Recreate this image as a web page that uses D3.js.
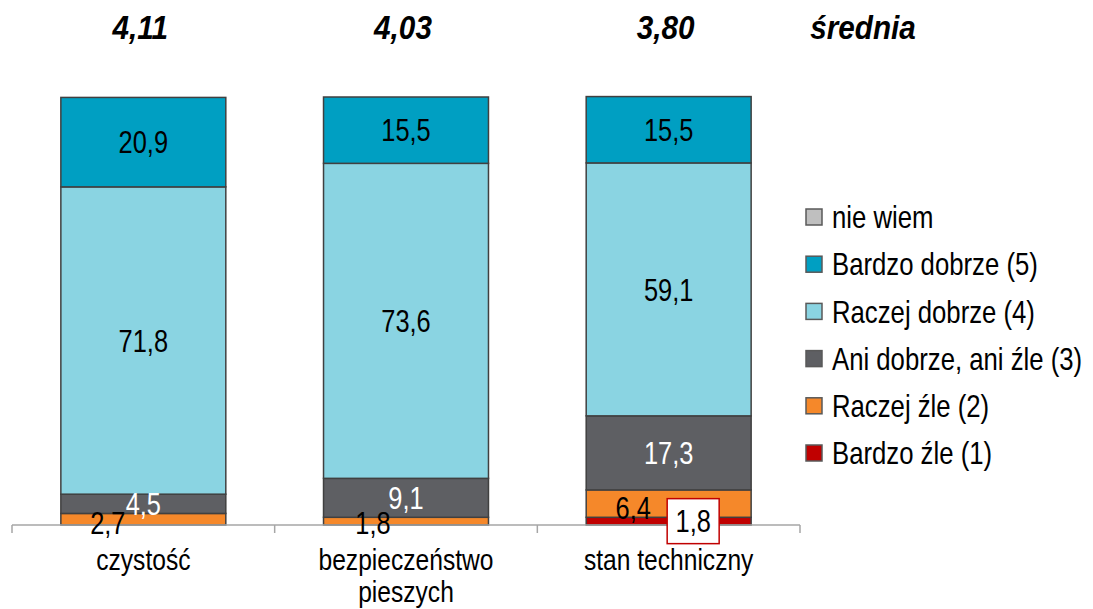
<!DOCTYPE html>
<html><head><meta charset="utf-8">
<script src="https://cdn.jsdelivr.net/npm/d3@7"></script>
<style>
html,body{margin:0;padding:0;background:#fff;}
svg{display:block;}
text{font-family:"Liberation Sans Narrow","Liberation Sans",Arial,sans-serif;}
</style></head>
<body>
<svg id="chart" width="1093" height="609"></svg>
<script>
const categories = ["czystość", "bezpieczeństwo\npieszych", "stan techniczny"];
const means = ["4,11", "4,03", "3,80"];
const meanTitle = "średnia";
const seriesNames = ["Bardzo źle (1)", "Raczej źle (2)", "Ani dobrze, ani źle (3)", "Raczej dobrze (4)", "Bardzo dobrze (5)", "nie wiem"];
const bardzoZle = [0, 0, 1.8];
const raczejZle = [2.7, 1.8, 6.4];
const ani = [4.5, 9.1, 17.3];
const raczejDobrze = [71.8, 73.6, 59.1];
const bardzoDobrze = [20.9, 15.5, 15.5];
const nieWiem = [0, 0, 0];
const seriesValues = [bardzoZle, raczejZle, ani, raczejDobrze, bardzoDobrze, nieWiem];
const colors = ["#C00000", "#F5882A", "#5E5F63", "#8AD4E2", "#009FC2", "#BFBFBF"];
const labelColors = ["#000", "#000", "#fff", "#000", "#000", "#000"];

const svg = d3.select("#chart");
const x = d3.scaleBand().domain(categories).range([12, 800]).paddingInner(0.372).paddingOuter(0.186);
const y = d3.scaleLinear().domain([0, 100]).range([525, 97]);

// condensed text helper (emulates a narrow font)
function ntext(parent, px, py, str, o) {
  const g = parent.append("g").attr("transform", `translate(${px},${py}) scale(${o.sx || 0.82},1)`);
  const t = g.append("text").attr("x", 0).attr("y", 0)
    .attr("text-anchor", o.anchor || "middle")
    .attr("font-size", o.size).attr("fill", o.fill || "#000");
  if (o.dy) t.attr("dy", o.dy);
  if (o.bold) t.attr("font-weight", "bold");
  if (o.italic) t.attr("font-style", "italic");
  t.text(str);
  return t;
}

const rows = categories.map((c, i) => {
  const o = {cat: c};
  seriesNames.forEach((s, j) => o[s] = seriesValues[j][i]);
  return o;
});
const stacked = d3.stack().keys(seriesNames)(rows);

// bars
stacked.forEach((layer, j) => {
  svg.append("g").selectAll("rect").data(layer.filter(d => d[1] - d[0] > 0)).join("rect")
    .attr("x", d => x(d.data.cat))
    .attr("y", d => y(d[1]))
    .attr("width", x.bandwidth())
    .attr("height", d => y(d[0]) - y(d[1]))
    .attr("fill", colors[j])
    .attr("stroke", "#404040")
    .attr("stroke-width", 1.5);
});

// axis
const axis = svg.append("g");
axis.append("line").attr("x1", 12).attr("x2", 800).attr("y1", y(0)).attr("y2", y(0))
  .attr("stroke", "#A6A6A6").attr("stroke-width", 1.5);
const step = x.step();
d3.range(categories.length + 1).forEach(i => {
  const tx = x.range()[0] + i * step;
  axis.append("line").attr("x1", tx).attr("x2", tx).attr("y1", y(0)).attr("y2", y(0) + 8)
    .attr("stroke", "#A6A6A6").attr("stroke-width", 1.5);
});
categories.forEach(c => {
  c.split("\n").forEach((l, k) => {
    ntext(svg, x(c) + x.bandwidth() / 2, 570 + k * 32, l, {size: 30});
  });
});

// value labels with nudges for small segments
const nudges = {
  "1|0": [-35.5, 4], "1|1": [-33, 2], "1|2": [-35.5, 4],
  "0|2": [24.5, 0]
};
stacked.forEach((layer, j) => {
  layer.forEach((d, i) => {
    const v = d[1] - d[0];
    if (!(v > 0)) return;
    const nd = nudges[j + "|" + i] || [0, 0];
    const cx = x(d.data.cat) + x.bandwidth() / 2 + nd[0];
    const cy = (y(d[0]) + y(d[1])) / 2 + nd[1];
    const txt = d3.format(".1f")(v).replace(".", ",");
    if (j === 0) {
      svg.append("rect").attr("x", cx - 26).attr("y", cy - 22.5).attr("width", 52).attr("height", 45)
        .attr("fill", "#fff").attr("stroke", "#C00000").attr("stroke-width", 1.5);
    }
    ntext(svg, cx, cy, txt, {size: 31, dy: "0.36em", fill: labelColors[j]});
  });
});

// means
means.forEach((m, i) => {
  ntext(svg, x(categories[i]) + x.bandwidth() / 2 - 3, 39, m, {size: 33, bold: true, italic: true, sx: 0.9});
});
ntext(svg, 863, 39, meanTitle, {size: 33, bold: true, italic: true, sx: 0.9});

// legend
const legendOrder = d3.range(seriesNames.length).reverse();
legendOrder.forEach((j, k) => {
  const cy = 217 + k * 47.2;
  svg.append("rect").attr("x", 806).attr("y", cy - 8).attr("width", 16).attr("height", 16)
    .attr("fill", colors[j]).attr("stroke", "#595959").attr("stroke-width", 1.5);
  ntext(svg, 832, cy, seriesNames[j], {size: 31, dy: "0.36em", anchor: "start", sx: 0.83});
});
</script>
</body></html>
